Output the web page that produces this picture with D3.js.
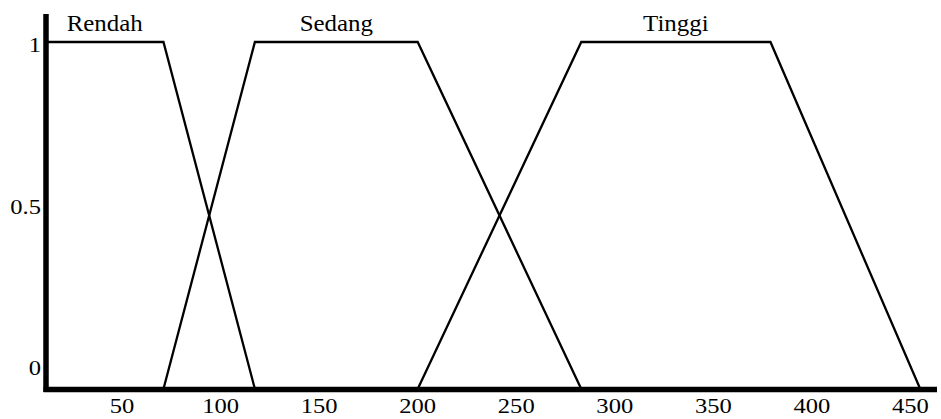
<!DOCTYPE html>
<html>
<head>
<meta charset="utf-8">
<script src="https://cdn.jsdelivr.net/npm/d3@7"></script>
<style>
  html, body { margin: 0; padding: 0; background: #fff; }
  svg { display: block; }
</style>
</head>
<body>
<svg id="chart" width="941" height="419"></svg>
<script>
// ---- data ----
const setNames = ["Rendah", "Sedang", "Tinggi"];
const rendahX = [11.4, 71, 117.4];
const rendahY = [1, 1, 0];
const sedangX = [71, 117.4, 200, 283];
const sedangY = [0, 1, 1, 0];
const tinggiX = [200, 283, 379, 455];
const tinggiY = [0, 1, 1, 0];
const xTicks = [50, 100, 150, 200, 250, 300, 350, 400, 450];
const yTicks = [0, 0.5, 1];
const yTickLabels = ["0", "0.5", "1"];

const FONT = "'Liberation Serif', 'Times New Roman', Tinos, 'DejaVu Serif', serif";

const series = [
  { name: setNames[0], xs: rendahX, ys: rendahY },
  { name: setNames[1], xs: sedangX, ys: sedangY },
  { name: setNames[2], xs: tinggiX, ys: tinggiY }
];

const svg = d3.select("#chart");
const x = d3.scaleLinear().domain([11.4, 463.5]).range([46, 937]);
const y = d3.scaleLinear().domain([0, 1]).range([389, 42]);
// tick labels in the reference sit on their own spacing
const yLab = d3.scaleLinear().domain([0, 1]).range([375, 52]);

const line = d3.line().x(d => x(d[0])).y(d => y(d[1]));

const g = svg.append("g");
series.forEach(s => {
  const pts = s.xs.map((v, i) => [v, s.ys[i]]);
  g.append("path")
    .attr("d", line(pts))
    .attr("fill", "none")
    .attr("stroke", "#000")
    .attr("stroke-width", 2.3)
    .attr("stroke-linejoin", "miter");
  const top = pts.filter(p => p[1] === 1);
  const cx = (x(top[0][0]) + x(top[top.length - 1][0])) / 2;
  g.append("text")
    .attr("transform", `translate(${cx},31) scale(1.06,1)`)
    .attr("text-anchor", "middle")
    .attr("font-family", FONT)
    .attr("font-size", 23.5)
    .attr("fill", "#000")
    .text(s.name);
});

// axes lines
svg.append("line")
  .attr("x1", x(11.4)).attr("x2", x(11.4))
  .attr("y1", 14).attr("y2", 392)
  .attr("stroke", "#000").attr("stroke-width", 5.5);
svg.append("line")
  .attr("x1", 43.5).attr("x2", x(463.5))
  .attr("y1", y(0) + 0.5).attr("y2", y(0) + 0.5)
  .attr("stroke", "#000").attr("stroke-width", 5.5);

// x tick labels
svg.append("g").selectAll("text").data(xTicks).join("text")
  .attr("transform", d => `translate(${x(d)},413) scale(1.17,1)`)
  .attr("text-anchor", "middle")
  .attr("font-family", FONT)
  .attr("font-size", 21)
  .attr("fill", "#000")
  .text(d => d);

// y tick labels
svg.append("g").selectAll("text").data(yTicks).join("text")
  .attr("transform", d => `translate(41,${yLab(d)}) scale(1.17,1)`)
  .attr("text-anchor", "end")
  .attr("font-family", FONT)
  .attr("font-size", 21)
  .attr("fill", "#000")
  .text((d, i) => yTickLabels[i]);
</script>
</body>
</html>
